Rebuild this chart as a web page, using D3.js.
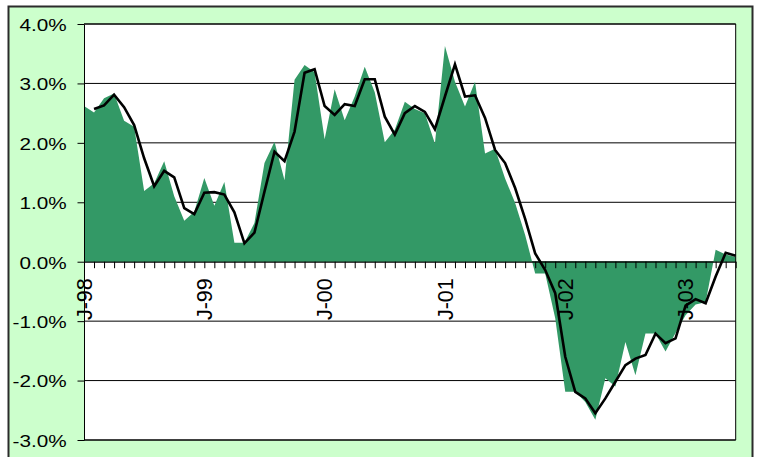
<!DOCTYPE html>
<html>
<head>
<meta charset="utf-8">
<script src="https://cdn.jsdelivr.net/npm/d3@7/dist/d3.min.js"></script>
<style>
  html, body { margin: 0; padding: 0; background: #ffffff; }
  svg { display: block; }
  text { font-family: "Liberation Sans", Arial, sans-serif; fill: #000; }
</style>
</head>
<body>
<svg id="chart" width="757" height="457"></svg>
<script>
// Monthly categories, Jan 1998 – Jun 2003
const months = d3.timeMonths(new Date(1998, 0, 1), new Date(2003, 6, 1));

// Monthly rate (%), drawn as the filled area
const monthlyRate = [
  2.62, 2.51, 2.75, 2.83, 2.37, 2.27, 1.19, 1.32, 1.69, 1.10, 0.69, 0.84,
  1.41, 0.94, 1.34, 0.32, 0.32, 0.65, 1.66, 2.02, 1.37, 3.06, 3.31, 3.19,
  2.06, 2.90, 2.38, 2.78, 3.28, 2.85, 2.01, 2.22, 2.69, 2.57, 2.50, 1.99,
  3.63, 3.03, 2.61, 3.03, 1.82, 1.90, 1.40, 0.99, 0.45, -0.20, -0.20, -0.95,
  -2.19, -2.19, -2.36, -2.66, -1.96, -2.10, -1.35, -1.91, -1.21, -1.21, -1.51, -1.20,
  -0.90, -0.72, -0.68, 0.20, 0.12, 0.08
];

// Smoothed rate (%), drawn as the black line (no value for the first month)
const smoothedRate = [
  null, 2.57, 2.63, 2.81, 2.60, 2.30, 1.74, 1.27, 1.53, 1.42, 0.90, 0.80,
  1.16, 1.17, 1.13, 0.83, 0.31, 0.49, 1.18, 1.85, 1.69, 2.19, 3.18, 3.24,
  2.62, 2.47, 2.65, 2.62, 3.07, 3.07, 2.44, 2.14, 2.50, 2.62, 2.52, 2.23,
  2.78, 3.32, 2.78, 2.80, 2.42, 1.88, 1.66, 1.24, 0.72, 0.14, -0.14, -0.53,
  -1.60, -2.19, -2.30, -2.55, -2.30, -2.02, -1.74, -1.63, -1.57, -1.21, -1.37, -1.29,
  -0.74, -0.63, -0.70, -0.25, 0.15, 0.10
];

// Axis labels
const yTicks = [-3, -2, -1, 0, 1, 2, 3, 4];
const yTickLabels = ["-3.0%", "-2.0%", "-1.0%", "0.0%", "1.0%", "2.0%", "3.0%", "4.0%"];
const xTickLabels = ["J-98", "J-99", "J-00", "J-01", "J-02", "J-03"];

const svg = d3.select("#chart");
const plot = { left: 84, right: 735.7, top: 24, bottom: 440 };

const x = d3.scalePoint()
  .domain(d3.range(months.length))
  .range([plot.left, plot.right]);

const y = d3.scaleLinear()
  .domain([-3, 4])
  .range([plot.bottom, plot.top]);

// Outer chart frame
svg.append("rect")
  .attr("x", 8.5).attr("y", 6.5)
  .attr("width", 744).attr("height", 480)
  .attr("fill", "#ccffcc")
  .attr("stroke", "#2b2b2b")
  .attr("stroke-width", 2);

// Plot area
svg.append("rect")
  .attr("x", plot.left).attr("y", plot.top)
  .attr("width", plot.right - plot.left).attr("height", plot.bottom - plot.top)
  .attr("fill", "#ffffff");

// Horizontal gridlines
svg.append("g")
  .selectAll("line")
  .data(yTicks)
  .join("line")
  .attr("x1", plot.left).attr("x2", plot.right)
  .attr("y1", d => y(d)).attr("y2", d => y(d))
  .attr("stroke", "#000")
  .attr("stroke-width", 1);

// Filled area for the monthly rate
const area = d3.area()
  .x((d, i) => x(i))
  .y0(y(0))
  .y1(d => y(d));

svg.append("path")
  .datum(monthlyRate)
  .attr("d", area)
  .attr("fill", "#339966");

// Smoothed line
const line = d3.line()
  .defined(d => d !== null)
  .x((d, i) => x(i))
  .y(d => y(d));

svg.append("path")
  .datum(smoothedRate)
  .attr("d", line)
  .attr("fill", "none")
  .attr("stroke", "#000")
  .attr("stroke-width", 2.6)
  .attr("stroke-linejoin", "miter");

// Plot border (top, right, bottom)
svg.append("path")
  .attr("d", `M${plot.left},${plot.top}H${plot.right}V${plot.bottom}H${plot.left}`)
  .attr("fill", "none")
  .attr("stroke", "#000")
  .attr("stroke-width", 1);

// Y axis
const yAxis = d3.axisLeft(y)
  .tickValues(yTicks)
  .tickSize(6.5)
  .tickSizeOuter(0)
  .tickFormat((d, i) => yTickLabels[i]);

const gy = svg.append("g")
  .attr("transform", `translate(${plot.left},0)`)
  .call(yAxis);
gy.select(".domain").attr("stroke", "#000");
gy.selectAll(".tick line").attr("stroke", "#000");
gy.selectAll(".tick text")
  .attr("x", null)
  .attr("dy", null)
  .attr("dominant-baseline", "central")
  .attr("text-anchor", "end")
  .attr("font-size", 17)
  .attr("font-family", "Liberation Sans, Arial, sans-serif")
  .attr("transform", "translate(-17.3,0.5) scale(1.22,1)");

// X axis on the zero line, one tick per month
const xAxis = d3.axisBottom(x)
  .tickValues(d3.range(months.length))
  .tickSize(6.5)
  .tickSizeOuter(0)
  .tickFormat(() => "");

const gx = svg.append("g")
  .attr("transform", `translate(0,${y(0)})`)
  .call(xAxis);
gx.select(".domain").attr("stroke", "#000");
gx.selectAll(".tick line").attr("stroke", "#000");

// Year labels on each January, reading upward
const janIdx = months.map((m, i) => i).filter(i => months[i].getMonth() === 0);
svg.append("g")
  .selectAll("text")
  .data(janIdx)
  .join("text")
  .attr("transform", d => `translate(${x(d)},${y(0) + 16.5}) rotate(-90)`)
  .attr("text-anchor", "end")
  .attr("dy", "0.36em")
  .attr("font-size", 21.5)
  .text((d, i) => xTickLabels[i]);
</script>
</body>
</html>
